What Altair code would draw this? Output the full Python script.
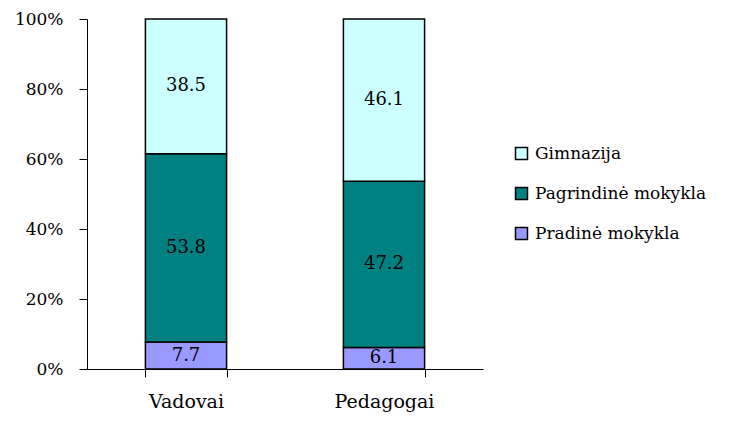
import altair as alt
import pandas as pd

categories = ["Vadovai", "Pedagogai"]
series = ["Pradinė mokykla", "Pagrindinė mokykla", "Gimnazija"]
pradine = [7.7, 6.1]
pagrindine = [53.8, 47.2]
gimnazija = [38.5, 46.1]
legend_order = ["Gimnazija", "Pagrindinė mokykla", "Pradinė mokykla"]
legend_colors = ["#CCFFFF", "#008080", "#9999FF"]
y_ticks = [0, 0.2, 0.4, 0.6, 0.8, 1.0]

rows = []
for i, cat in enumerate(categories):
    for j, (s, vals) in enumerate(zip(series, [pradine, pagrindine, gimnazija])):
        rows.append({"cat": cat, "series": s, "ord": j, "value": vals[i]})
df = pd.DataFrame(rows)

FONT = "DejaVu Serif"

base = alt.Chart(df).transform_stack(
    stack="value",
    groupby=["cat"],
    as_=["y0", "y1"],
    offset="normalize",
    sort=[alt.SortField("ord", order="ascending")],
).transform_calculate(mid="(datum.y0 + datum.y1) / 2")

xenc = alt.X(
    "cat:N",
    sort=categories,
    scale=alt.Scale(paddingInner=0.59, paddingOuter=0.295),
    axis=alt.Axis(
        title=None, labelAngle=0, tickBand="extent", domainColor="black",
        tickColor="black", tickSize=8, labelFontSize=19, labelFont=FONT,
        labelPadding=15, labelColor="black", grid=False,
    ),
)

bars = base.mark_bar(stroke="black", strokeWidth=1.5).encode(
    x=xenc,
    y=alt.Y(
        "y0:Q",
        scale=alt.Scale(domain=[0, 1], nice=False),
        axis=alt.Axis(
            title=None, values=y_ticks, format=".0%", domainColor="black",
            tickColor="black", tickSize=8, labelFontSize=17, labelFont=FONT,
            labelPadding=16, labelColor="black", grid=False,
        ),
    ),
    y2="y1:Q",
    color=alt.Color(
        "series:N",
        scale=alt.Scale(domain=legend_order, range=legend_colors),
        legend=alt.Legend(
            title=None, orient="none", legendX=426, legendY=126,
            symbolType="square", symbolSize=144, symbolStrokeColor="black",
            symbolStrokeWidth=1.5, labelFontSize=17, labelFont=FONT,
            labelColor="black", rowPadding=21, labelOffset=5, labelLimit=400,
        ),
    ),
)

labels = base.mark_text(fontSize=18, font=FONT, color="black").encode(
    x=alt.X("cat:N", sort=categories),
    y=alt.Y("mid:Q"),
    text=alt.Text("value:Q", format=".1f"),
)

chart = (bars + labels).properties(
    width=396,
    height=350,
    autosize=alt.AutoSizeParams(type="none"),
    padding={"left": 79, "top": 11, "right": 239, "bottom": 46},
).configure_view(stroke=None)

chart.save("out.html", embed_options={"renderer": "svg", "actions": False})
